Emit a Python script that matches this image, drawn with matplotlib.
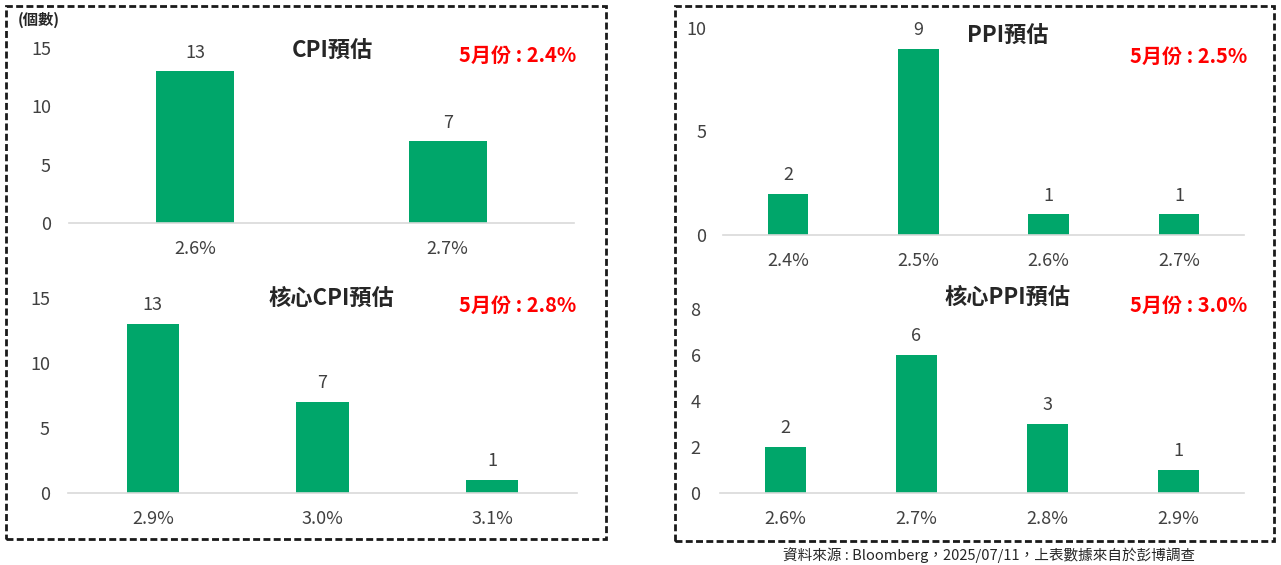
import matplotlib
matplotlib.use('Agg')
import matplotlib.pyplot as plt
from matplotlib.patches import Rectangle

plt.rcParams['font.family'] = ['Noto Sans CJK TC', 'DejaVu Sans']

W, H = 1281, 565
GREEN = '#00a66a'
TXT = '#404040'

# data
cpi_cats = ['2.6%', '2.7%']
cpi_vals = [13, 7]
core_cpi_cats = ['2.9%', '3.0%', '3.1%']
core_cpi_vals = [13, 7, 1]
ppi_cats = ['2.4%', '2.5%', '2.6%', '2.7%']
ppi_vals = [2, 9, 1, 1]
core_ppi_cats = ['2.6%', '2.7%', '2.8%', '2.9%']
core_ppi_vals = [2, 6, 3, 1]

titles = ['CPI預估', '核心CPI預估', 'PPI預估', '核心PPI預估']
actuals = ['5月份 : 2.4%', '5月份 : 2.8%', '5月份 : 2.5%', '5月份 : 3.0%']

fig = plt.figure(figsize=(W / 100, H / 100), dpi=100)


def px_axes(x0, x1, ytop, ybot):
    return fig.add_axes([x0 / W, 1 - ybot / H, (x1 - x0) / W, (ybot - ytop) / H])


def fig_text(x, y, s, **kw):
    fig.text(x / W, 1 - y / H, s, **kw)


def panel(ax, cats, vals, ymax, step, ypad):
    x = range(len(cats))
    ax.bar(x, vals, width=0.31, color=GREEN)
    ax.set_xlim(-0.5, len(cats) - 0.5)
    ax.set_ylim(0, ymax)
    ax.set_yticks(range(0, ymax + 1, step))
    ax.set_xticks(list(x))
    ax.set_xticklabels(cats)
    for s in ['top', 'right', 'left']:
        ax.spines[s].set_visible(False)
    ax.spines['bottom'].set_color('#d9d9d9')
    ax.spines['bottom'].set_linewidth(1.2)
    ax.tick_params(axis='x', length=0, pad=12, labelsize=13, labelcolor=TXT)
    ax.tick_params(axis='y', length=0, pad=ypad, labelsize=13, labelcolor=TXT)
    for xi, v in zip(x, vals):
        ax.annotate(str(v), (xi, v), xytext=(0, 7), textcoords='offset points',
                    ha='center', va='bottom', fontsize=13, color=TXT)
    ax.patch.set_alpha(0)


ax1 = px_axes(69, 574, 48, 223)
panel(ax1, cpi_cats, cpi_vals, 15, 5, 13)
ax2 = px_axes(68, 577, 298, 493)
panel(ax2, core_cpi_cats, core_cpi_vals, 15, 5, 13)
ax3 = px_axes(723, 1244, 28, 235)
panel(ax3, ppi_cats, ppi_vals, 10, 5, 12)
ax4 = px_axes(720, 1244, 309, 493)
panel(ax4, core_ppi_cats, core_ppi_vals, 8, 2, 14)

# titles and actual values
title_pos = [(332, 50), (331, 298), (1008, 35), (1008, 297)]
actual_pos = [(576, 55), (576, 305), (1247, 56), (1247, 305)]
for t, (tx, ty) in zip(titles, title_pos):
    fig_text(tx, ty, t, ha='center', va='center', fontsize=16,
             fontweight='bold', color='#262626')
for a, (ax_, ay) in zip(actuals, actual_pos):
    fig_text(ax_, ay, a, ha='right', va='center', fontsize=14.5,
             fontweight='bold', color='#ff0000')

fig_text(18, 20, '(個數)', ha='left', va='center', fontsize=11,
         fontweight='bold', color='#262626')
fig_text(783, 555, '資料來源 : Bloomberg，2025/07/11，上表數據來自於彭博調查',
         ha='left', va='center', fontsize=10.5, color='#262626')

# dashed frames
for (x0, y0, x1, y1) in [(6, 6, 606, 539), (675, 6, 1274, 541)]:
    fig.patches.append(Rectangle((x0 / W, 1 - y1 / H), (x1 - x0) / W, (y1 - y0) / H,
                                 transform=fig.transFigure, fill=False,
                                 edgecolor='#1a1a1a', linewidth=2,
                                 linestyle=(0, (2.5, 1.2))))

fig.savefig('out.png', dpi=100)
